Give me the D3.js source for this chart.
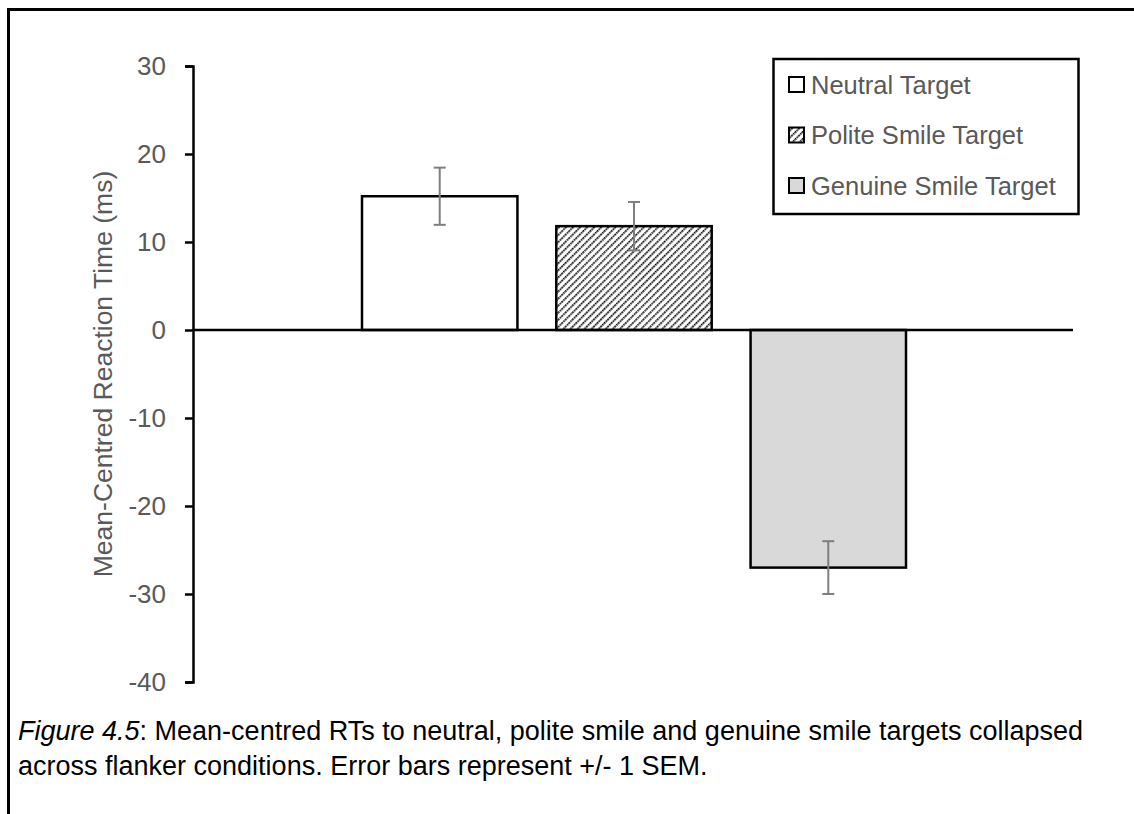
<!DOCTYPE html>
<html lang="en">
<head>
<meta charset="UTF-8">
<script src="https://d3js.org/d3.v7.min.js"></script>
<style>
  body { margin: 0; background: #fff; }
  svg { display: block; }
  text { font-family: "Liberation Sans", Arial, sans-serif; }
</style>
</head>
<body>
<div id="plot"></div>
<script>
// chart data
var categories = ["RT"];
var series = ["Neutral Target", "Polite Smile Target", "Genuine Smile Target"];
var means = [15.2, 11.8, -27.0];
var sems = [3.25, 2.75, 3.0];
var yTicks = [30, 20, 10, 0, -10, -20, -30, -40];
var fills = ["#ffffff", "url(#hatch)", "#d9d9d9"];

function drawChart() {
  var width = 1134, height = 814;
  var svg = d3.select("#plot").append("svg")
      .attr("width", width)
      .attr("height", height);

  var defs = svg.append("defs");
  var pat = defs.append("pattern")
      .attr("id", "hatch")
      .attr("patternUnits", "userSpaceOnUse")
      .attr("width", 5)
      .attr("height", 5)
      .attr("patternTransform", "rotate(45)");
  pat.append("rect").attr("width", 5).attr("height", 5).attr("fill", "#fff");
  pat.append("line")
      .attr("x1", 0).attr("y1", 0).attr("x2", 0).attr("y2", 5)
      .attr("stroke", "#000").attr("stroke-width", 3.4).attr("stroke-dasharray", "1.8 0.7");

  // frame (top + left only visible)
  svg.append("path")
      .attr("d", "M8.5,814 V9.5 H1134")
      .attr("fill", "none")
      .attr("stroke", "#000")
      .attr("stroke-width", 3);

  var y = d3.scaleLinear().domain([-40, 30]).range([682, 66]);
  var x0 = d3.scaleBand().domain(categories).range([193, 1073]);
  var x1 = d3.scaleBand().domain(series)
      .range([x0(categories[0]) + 169, x0(categories[0]) + x0.bandwidth() - 167])
      .paddingInner(0.2);

  // y axis
  var yAxis = d3.axisLeft(y).tickValues(yTicks).tickSize(8).tickPadding(19)
      .tickFormat(function(d) { return String(d); });
  var gy = svg.append("g").attr("transform", "translate(193,0)").call(yAxis);
  gy.select(".domain").attr("stroke", "#000").attr("stroke-width", 2.5);
  gy.selectAll(".tick line").attr("stroke", "#000").attr("stroke-width", 2.5);
  gy.selectAll(".tick text")
      .attr("fill", "#595959")
      .attr("font-size", 26)
      .attr("font-family", "Liberation Sans, Arial, sans-serif");

  svg.append("text")
      .attr("transform", "translate(112," + y(-5) + ") rotate(-90)")
      .attr("text-anchor", "middle")
      .attr("fill", "#595959")
      .attr("font-size", 26.5)
      .text("Mean-Centred Reaction Time (ms)");

  // bars
  var bars = svg.append("g");
  bars.selectAll("rect")
    .data(series)
    .join("rect")
      .attr("x", function(d) { return x1(d); })
      .attr("width", x1.bandwidth())
      .attr("y", function(d, i) { return y(Math.max(0, means[i])); })
      .attr("height", function(d, i) { return Math.abs(y(means[i]) - y(0)); })
      .attr("fill", function(d, i) { return fills[i]; })
      .attr("stroke", "#000")
      .attr("stroke-width", 2.5);

  // zero line
  svg.append("line")
      .attr("x1", 193).attr("x2", 1073)
      .attr("y1", y(0)).attr("y2", y(0))
      .attr("stroke", "#000").attr("stroke-width", 2.5);

  // error bars
  var eb = svg.append("g").attr("stroke", "#7f7f7f").attr("stroke-width", 2);
  series.forEach(function(s, i) {
    var cx = x1(s) + x1.bandwidth() / 2;
    var hi = y(means[i] + sems[i]), lo = y(means[i] - sems[i]);
    eb.append("line").attr("x1", cx).attr("x2", cx).attr("y1", hi).attr("y2", lo);
    eb.append("line").attr("x1", cx - 6).attr("x2", cx + 6).attr("y1", hi).attr("y2", hi);
    eb.append("line").attr("x1", cx - 6).attr("x2", cx + 6).attr("y1", lo).attr("y2", lo);
  });

  // legend
  var lg = svg.append("g");
  lg.append("rect")
      .attr("x", 773.5).attr("y", 59)
      .attr("width", 305).attr("height", 155)
      .attr("fill", "#fff").attr("stroke", "#000").attr("stroke-width", 2.5);
  series.forEach(function(s, i) {
    var cy = 84 + i * 50.5;
    lg.append("rect")
        .attr("x", 789).attr("y", cy - 7)
        .attr("width", 15).attr("height", 15)
        .attr("fill", fills[i]).attr("stroke", "#000").attr("stroke-width", 2);
    lg.append("text")
        .attr("x", 811).attr("y", cy + 9.5)
        .attr("fill", "#595959")
        .attr("font-size", 25.5)
        .text(s);
  });

  // caption
  var cap = svg.append("g").attr("fill", "#000").attr("font-size", 27);
  var t1 = cap.append("text").attr("x", 18).attr("y", 740);
  t1.append("tspan").attr("font-style", "italic").text("Figure 4.5");
  t1.append("tspan").text(": Mean-centred RTs to neutral, polite smile and genuine smile targets collapsed");
  cap.append("text").attr("x", 18).attr("y", 775)
      .text("across flanker conditions. Error bars represent +/- 1 SEM.");
}

drawChart();
</script>
</body>
</html>
